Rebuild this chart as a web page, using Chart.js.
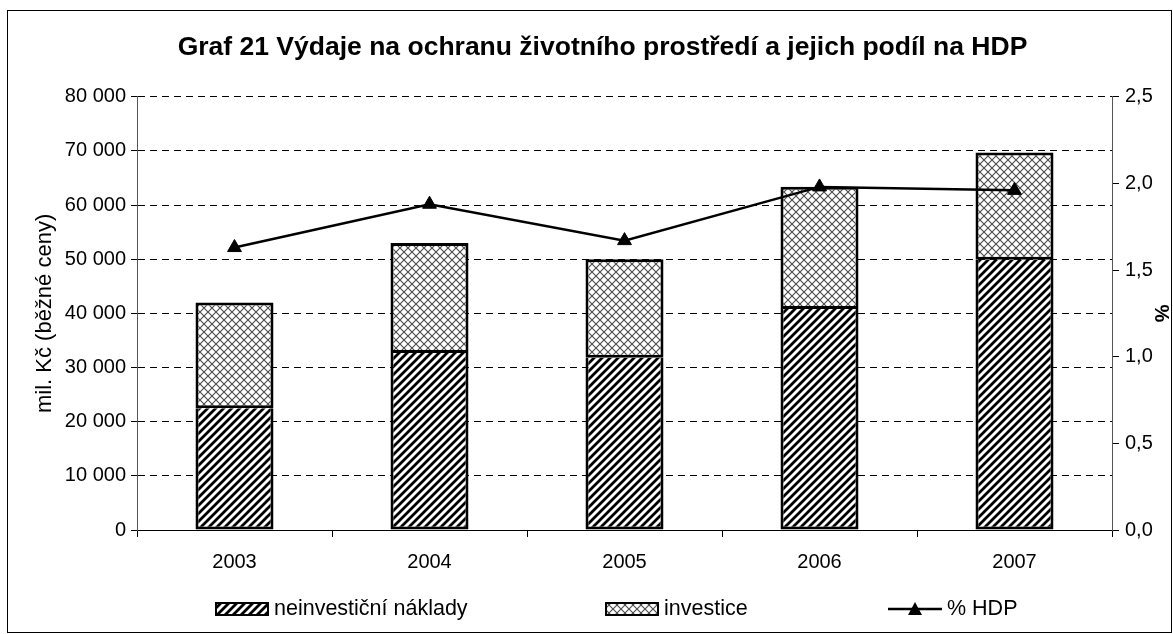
<!DOCTYPE html>
<html>
<head>
<meta charset="utf-8">
<script src="https://cdn.jsdelivr.net/npm/chart.js@4.4.1/dist/chart.umd.min.js"></script>
<style>
  body { margin: 0; background: #fff; }
  #wrap { position: relative; width: 1173px; height: 634px; }
  #legend { position: absolute; top: 596px; left: 0; width: 1173px; height: 26px;
            font-family: "Liberation Sans", Arial, sans-serif; font-size: 21.5px; color: #000; }
  .item { position: absolute; display: flex; align-items: center; }
  .item canvas { margin-right: 5px; }
</style>
</head>
<body>
<div id="wrap">
  <canvas id="chart" width="1173" height="634"></canvas>
  <div id="legend"></div>
</div>
<script>
const years = ['2003', '2004', '2005', '2006', '2007'];
const neinvesticniNaklady = [22500, 32700, 31800, 40800, 49900];
const investice = [19500, 20300, 18200, 22600, 19800];
const podilHdp = [1.63, 1.88, 1.67, 1.98, 1.96];
const yTicks = [0, 10000, 20000, 30000, 40000, 50000, 60000, 70000, 80000];
const y1Ticks = [0, 0.5, 1.0, 1.5, 2.0, 2.5];

const FONT = '"Liberation Sans", Arial, sans-serif';

function stripePattern() {
    const c = document.createElement('canvas');
    c.width = 8; c.height = 8;
    const g = c.getContext('2d');
    g.fillStyle = '#fff';
    g.fillRect(0, 0, 8, 8);
    g.strokeStyle = '#000';
    g.lineWidth = 2.8;
    g.beginPath();
    g.moveTo(-2, 10); g.lineTo(10, -2);
    g.moveTo(-2, 2); g.lineTo(2, -2);
    g.moveTo(6, 10); g.lineTo(10, 6);
    g.stroke();
    return g.createPattern(c, 'repeat');
}

function crossPattern() {
    const c = document.createElement('canvas');
    c.width = 8; c.height = 8;
    const g = c.getContext('2d');
    g.fillStyle = '#fff';
    g.fillRect(0, 0, 8, 8);
    g.strokeStyle = '#4a4a4a';
    g.lineWidth = 1.1;
    g.beginPath();
    g.moveTo(0, 0); g.lineTo(8, 8);
    g.moveTo(8, 0); g.lineTo(0, 8);
    g.stroke();
    return g.createPattern(c, 'repeat');
}

function fmtThousands(v) {
    return String(v).replace(/\B(?=(\d{3})+(?!\d))/g, ' ');
}

// outer frame like the Excel chart area
const framePlugin = {
    id: 'frame',
    afterDraw(chart) {
        const ctx = chart.ctx;
        ctx.save();
        ctx.strokeStyle = '#000';
        ctx.lineWidth = 1;
        ctx.strokeRect(7.5, 10.5, 1164, 622);
        ctx.restore();
    }
};

const ctx = document.getElementById('chart').getContext('2d');
const chart = new Chart(ctx, {
    type: 'bar',
    data: {
        labels: years,
        datasets: [{
            label: 'neinvestiční náklady',
            data: neinvesticniNaklady,
            backgroundColor: stripePattern(),
            borderColor: '#000',
            borderWidth: { left: 3, right: 3, bottom: 3, top: 0 },
            borderSkipped: false,
            barPercentage: 0.4,
            categoryPercentage: 1,
            yAxisID: 'y',
            order: 1
        }, {
            label: 'investice',
            data: investice,
            backgroundColor: crossPattern(),
            borderColor: '#000',
            borderWidth: 3,
            borderSkipped: false,
            barPercentage: 0.4,
            categoryPercentage: 1,
            yAxisID: 'y',
            order: 1
        }, {
            type: 'line',
            label: '% HDP',
            data: podilHdp,
            borderColor: '#000',
            backgroundColor: '#000',
            borderWidth: 2.5,
            pointStyle: 'triangle',
            pointRadius: 8,
            pointBorderWidth: 1,
            tension: 0,
            yAxisID: 'y1',
            order: 0
        }]
    },
    options: {
        responsive: false,
        animation: false,
        layout: { padding: { left: 32, right: 0, top: 10, bottom: 46 } },
        plugins: {
            legend: { display: false },
            tooltip: { enabled: false },
            title: {
                display: true,
                text: 'Graf 21 Výdaje na ochranu životního prostředí a jejich podíl na HDP',
                color: '#000',
                font: { family: FONT, size: 26.5, weight: 'bold' },
                padding: { top: 22, bottom: 33 }
            }
        },
        scales: {
            x: {
                stacked: true,
                grid: { offset: true, drawOnChartArea: false, tickLength: 7, color: '#000' },
                border: { color: '#000', width: 1 },
                ticks: { color: '#000', font: { family: FONT, size: 20 }, padding: 13 },
                afterFit(scale) { scale.height = 58; }
            },
            y: {
                stacked: true,
                position: 'left',
                min: 0,
                max: 80000,
                afterBuildTicks(scale) { scale.ticks = yTicks.map(v => ({ value: v })); },
                ticks: { color: '#000', font: { family: FONT, size: 20 }, padding: 5, callback: v => fmtThousands(v) },
                grid: { color: '#000', tickLength: 6, tickBorderDash: [] },
                border: { color: '#555', width: 1, dash: [7, 5] },
                title: {
                    display: true,
                    text: 'mil. Kč (běžné ceny)',
                    color: '#000',
                    font: { family: FONT, size: 22 },
                    padding: { top: 0, bottom: 0 }
                },
                afterFit(scale) { scale.width = 105; }
            },
            y1: {
                position: 'right',
                min: 0,
                max: 2.5,
                afterBuildTicks(scale) { scale.ticks = y1Ticks.map(v => ({ value: v })); },
                ticks: { color: '#000', font: { family: FONT, size: 20 }, padding: 6, callback: v => v.toFixed(1).replace('.', ',') },
                grid: { drawOnChartArea: false, tickLength: 7, color: '#000' },
                border: { color: '#555', width: 1 },
                title: {
                    display: true,
                    text: '%',
                    color: '#000',
                    font: { family: FONT, size: 20, weight: 'bold' },
                    padding: { top: 0, bottom: 2 }
                },
                afterFit(scale) { scale.width = 61; }
            }
        }
    },
    plugins: [framePlugin]
});

// legend placed like in the original (HTML, built from the datasets)
function legendMarker(ds) {
    const c = document.createElement('canvas');
    c.width = 54; c.height = 16;
    const g = c.getContext('2d');
    if (ds.type === 'line') {
        g.strokeStyle = '#000';
        g.lineWidth = 2.5;
        g.beginPath(); g.moveTo(0, 8); g.lineTo(54, 8); g.stroke();
        g.fillStyle = '#000';
        g.beginPath(); g.moveTo(27, 1); g.lineTo(34, 14); g.lineTo(20, 14); g.closePath(); g.fill();
    } else {
        g.fillStyle = ds.backgroundColor;
        g.fillRect(1, 2, 52, 12);
        g.strokeStyle = '#000';
        g.lineWidth = 2;
        g.strokeRect(1, 2, 52, 12);
    }
    return c;
}
const legendLefts = [215, 605, 888];
const legendEl = document.getElementById('legend');
chart.data.datasets.forEach((ds, i) => {
    const item = document.createElement('div');
    item.className = 'item';
    item.style.left = legendLefts[i] + 'px';
    item.appendChild(legendMarker(ds));
    const span = document.createElement('span');
    span.textContent = ds.label;
    item.appendChild(span);
    legendEl.appendChild(item);
});
</script>
</body>
</html>
